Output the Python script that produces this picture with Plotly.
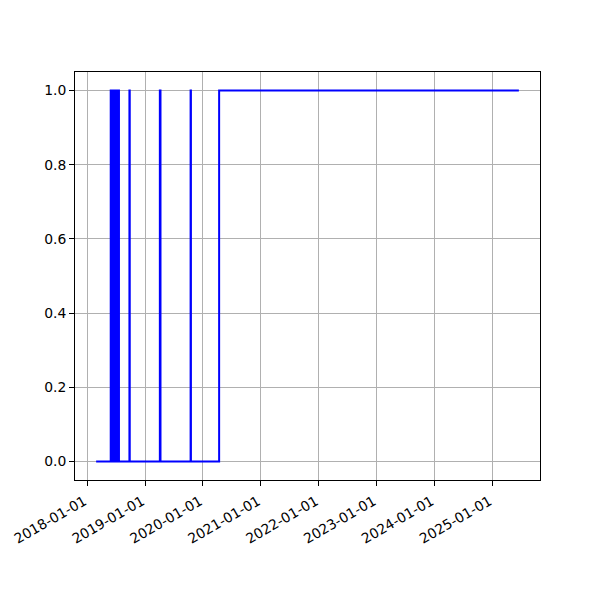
import pandas as pd
import plotly.graph_objects as go

dates = [
    "2018-02-26", "2018-05-29", "2018-06-04", "2018-06-08", "2018-06-12",
    "2018-06-15", "2018-06-19", "2018-06-22", "2018-06-26", "2018-06-29",
    "2018-07-03", "2018-07-06", "2018-07-10", "2018-07-13", "2018-07-20",
    "2018-09-24", "2018-09-26", "2019-04-04", "2019-04-08",
    "2019-10-15", "2019-10-17", "2020-04-12", "2025-06-16",
]
values = [
    0, 1, 0, 1, 0,
    1, 0, 1, 0, 1,
    0, 1, 0, 1, 0,
    1, 0, 1, 0,
    1, 0, 1, 1,
]
tick_dates = ["2018-01-01", "2019-01-01", "2020-01-01", "2021-01-01",
              "2022-01-01", "2023-01-01", "2024-01-01", "2025-01-01"]
y_ticks = [0.0, 0.2, 0.4, 0.6, 0.8, 1.0]

d = pd.to_datetime(dates)
span = d.max() - d.min()
x_range = [(d.min() - 0.05 * span).strftime("%Y-%m-%d %H:%M:%S"),
           (d.max() + 0.05 * span).strftime("%Y-%m-%d %H:%M:%S")]

fig = go.Figure()
fig.add_trace(go.Scatter(x=dates, y=values, mode="lines", line_shape="hv",
                         line=dict(color="#0000ff", width=2)))

font = dict(family="DejaVu Sans", size=13.9, color="black")
fig.update_layout(
    width=600, height=600,
    margin=dict(l=67, r=68, t=64, b=128),
    paper_bgcolor="white", plot_bgcolor="white",
    showlegend=False, font=font,
)
fig.update_xaxes(
    type="date", range=x_range, automargin=False,
    tickvals=tick_dates, ticktext=tick_dates, tickangle=-30,
    ticklabelshift=-3, ticklabelstandoff=2,
    showgrid=True, gridcolor="#b0b0b0", gridwidth=1,
    showline=True, linecolor="black", linewidth=1, mirror=True,
    ticks="outside", ticklen=5, tickcolor="black", zeroline=False,
)
fig.update_yaxes(
    range=[-0.05, 1.05], tickvals=y_ticks, tickformat=".1f", automargin=False,
    showgrid=True, gridcolor="#b0b0b0", gridwidth=1,
    showline=True, linecolor="black", linewidth=1, mirror=True,
    ticks="outside", ticklen=5, tickcolor="black", zeroline=False,
)
fig.write_html("out.html")
